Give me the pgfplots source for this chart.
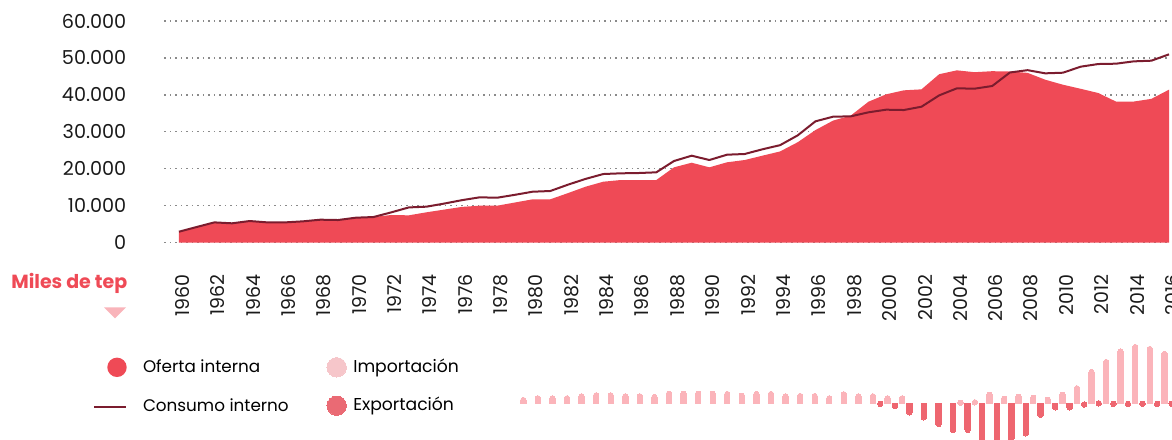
\documentclass[border=0pt]{standalone}
\usepackage{fontspec}
\setmainfont{Poppins}
\usepackage{pgfplots}
\pgfplotsset{compat=1.18}
\definecolor{oferta}{HTML}{EF4A56}
\definecolor{consumo}{HTML}{7B1C2E}
\definecolor{impc}{HTML}{FBB4BA}
\definecolor{expc}{HTML}{EE6670}
\definecolor{implegc}{HTML}{F6C6CA}
\definecolor{explegc}{HTML}{EA6A74}
\definecolor{tric}{HTML}{F9B4BA}
\definecolor{labc}{HTML}{1A1A1A}
\definecolor{gridc}{HTML}{8A8A8A}
\begin{document}
\begin{tikzpicture}
\useasboundingbox (0,0) rectangle (586pt,-219.5pt);
\begin{axis}[
  at={(82.15pt,-121.35pt)}, anchor=south west,
  scale only axis, width=502.35pt, height=110.85pt,
  xmin=1959.17, xmax=2016, ymin=0, ymax=60000,
  scaled y ticks=false, scaled x ticks=false,
  axis line style={draw=none}, tick style={draw=none},
  ymajorgrids, major grid style={draw=gridc, line width=0.6pt, dash pattern=on 0.6pt off 2.15pt},
  ytick={0,10000,20000,30000,40000,50000,60000},
  yticklabels={0,10.000,20.000,30.000,40.000,50.000,60.000},
  yticklabel style={font=\fontsize{9.6}{10}\selectfont, text=labc, inner sep=0pt, xshift=-18.8pt, anchor=east},
  xtick={1960,1962,1964,1966,1968,1970,1972,1974,1976,1978,1980,1982,1984,1986,1988,1990,1992,1994,1996,1998,2000,2002,2004,2006,2008,2010,2012,2014,2016},
  xticklabels={1960,1962,1964,1966,1968,1970,1972,1974,1976,1978,1980,1982,1984,1986,1988,1990,1992,1994,1996,1998,2000,2002,2004,2006,2008,2010,2012,2014,2016},
  xticklabel style={font=\fontsize{9.5}{10}\selectfont, text=labc, inner sep=0pt, yshift=-15.6pt, xshift=1.75pt, rotate=90, anchor=east},
  clip=false,
  legend style={at={(axis description cs:-0.07067,-0.5183)}, anchor=north west, draw=none, fill=none, inner sep=0pt, outer sep=0pt, row sep=11pt, column sep=8pt, nodes={inner sep=0pt, anchor=west}, font=\fontsize{8.4}{10}\selectfont},
  legend cell align=left,
]
\addplot[fill=oferta, draw=none, legend image code/.code={\fill[oferta] (0pt,0pt) circle (4.85pt);}] coordinates {
(1960,2980) (1961,4250) (1962,5500) (1963,5250) (1964,5870) (1965,5500) (1966,5500) (1967,5780) (1968,6230) (1969,6140)
(1970,6770) (1971,6950) (1972,7500) (1973,7410) (1974,8230) (1975,8960) (1976,9690) (1977,10020) (1978,10020) (1979,10880)
(1980,11740) (1981,11740) (1982,13420) (1983,15160) (1984,16510) (1985,16970) (1986,16970) (1987,16970) (1988,20400) (1989,21650)
(1990,20400) (1991,21760) (1992,22380) (1993,23550) (1994,24700) (1995,27200) (1996,30480) (1997,33050) (1998,34420) (1999,38160)
(2000,40160) (2001,41240) (2002,41510) (2003,45600) (2004,46650) (2005,46150) (2006,46420) (2007,46330) (2008,45970) (2009,44110)
(2010,42760) (2011,41660) (2012,40510) (2013,38200) (2014,38200) (2015,38930) (2016,41420)
} \closedcycle;
\addplot[consumo, line width=1pt, line join=round, legend image code/.code={\draw[consumo,line width=1pt] (-11.35pt,0pt) -- (4.5pt,0pt);}] coordinates {
(1960,2980) (1961,4250) (1962,5500) (1963,5250) (1964,5870) (1965,5500) (1966,5500) (1967,5780) (1968,6230) (1969,6140)
(1970,6770) (1971,6950) (1972,8200) (1973,9550) (1974,9750) (1975,10590) (1976,11510) (1977,12280) (1978,12180) (1979,12960)
(1980,13800) (1981,13990) (1982,15700) (1983,17270) (1984,18590) (1985,18780) (1986,18860) (1987,19050) (1988,22110) (1989,23550)
(1990,22380) (1991,23820) (1992,24010) (1993,25280) (1994,26400) (1995,29060) (1996,32850) (1997,34110) (1998,34200) (1999,35290)
(2000,36000) (2001,35910) (2002,36810) (2003,39880) (2004,41780) (2005,41690) (2006,42410) (2007,46070) (2008,46700) (2009,45840)
(2010,46010) (2011,47640) (2012,48360) (2013,48450) (2014,49080) (2015,49260) (2016,50980)
};
\legend{Oferta interna, Consumo interno}
\end{axis}
\begin{axis}[
  at={(254.37pt,-219.65pt)}, anchor=south west,
  scale only axis, width=335.1pt, height=48pt,
  xmin=-1, xmax=45, ymin=-36, ymax=60,
  hide axis, clip=false,
  ybar, bar width=2.7pt, bar shift=0pt,
  legend style={at={(axis description cs:-0.2712,0.851)}, anchor=north west, draw=none, fill=none, inner sep=0pt, outer sep=0pt, row sep=9.5pt, column sep=3.45pt, nodes={inner sep=0pt, anchor=west}, font=\fontsize{8.6}{10}\selectfont},
  legend cell align=left,
]
\addplot[color=impc, fill=impc, line width=0pt, mark=*, mark size=1.35pt, mark options={color=impc, fill=impc, line width=0pt}, y filter/.expression={y-2.7},
  legend image code/.code={\fill[implegc] (0pt,0pt) circle (4.85pt);}] coordinates {
(0,6) (1,7.7) (2,7.7) (3,7.7) (4,9.7) (5,10.7) (6,10.7) (7,9.7) (8,9.7) (9,9) (10,12.3) (11,12.3) (12,12.3) (13,12.3) (14,12)
(15,10.3) (16,12) (17,12) (18,9.7) (19,10) (20,10) (21,7.7) (22,11.7) (23,9.7) (24,9.7) (25,7.7) (26,7.7)
(30,3.3) (31,3.7) (32,11.3) (33,7.3) (34,9.3) (35,8.3) (36,6.3) (37,11.3) (38,17.7) (39,34) (40,44) (41,54.3) (42,59) (43,57) (44,52)
};
\addplot[color=expc, fill=expc, line width=0pt, mark=*, mark size=1.35pt, mark options={color=expc, fill=expc, line width=0pt}, y filter/.expression={y+2.7},
  legend image code/.code={\fill[explegc] (0pt,0pt) circle (4.85pt);}] coordinates {
(24.5,-3.3) (25.5,-5.3) (26.5,-11.7) (27.5,-16.7) (28.5,-23.3) (29.5,-29.3) (30.5,-29.3) (31.5,-38) (32.5,-38) (33.5,-38)
(34.5,-32.7) (35.5,-14) (36.5,-6.7) (37.5,-6.7) (38.5,-4) (39.5,-2.7) (40.5,-3.3) (41.5,-3.3) (42.5,-3.3) (43.5,-3.3) (44.5,-3.3)
};
\legend{Importación, Exportación}
\end{axis}
\node[anchor=base east, text=oferta, inner sep=0pt, font=\bfseries\fontsize{9.5}{10}\selectfont] at (63.85pt,-144.15pt) {Miles de tep};
\fill[tric] (52pt,-153.65pt) -- (63pt,-153.65pt) -- (57.5pt,-159.15pt) -- cycle;
\end{tikzpicture}
\end{document}
